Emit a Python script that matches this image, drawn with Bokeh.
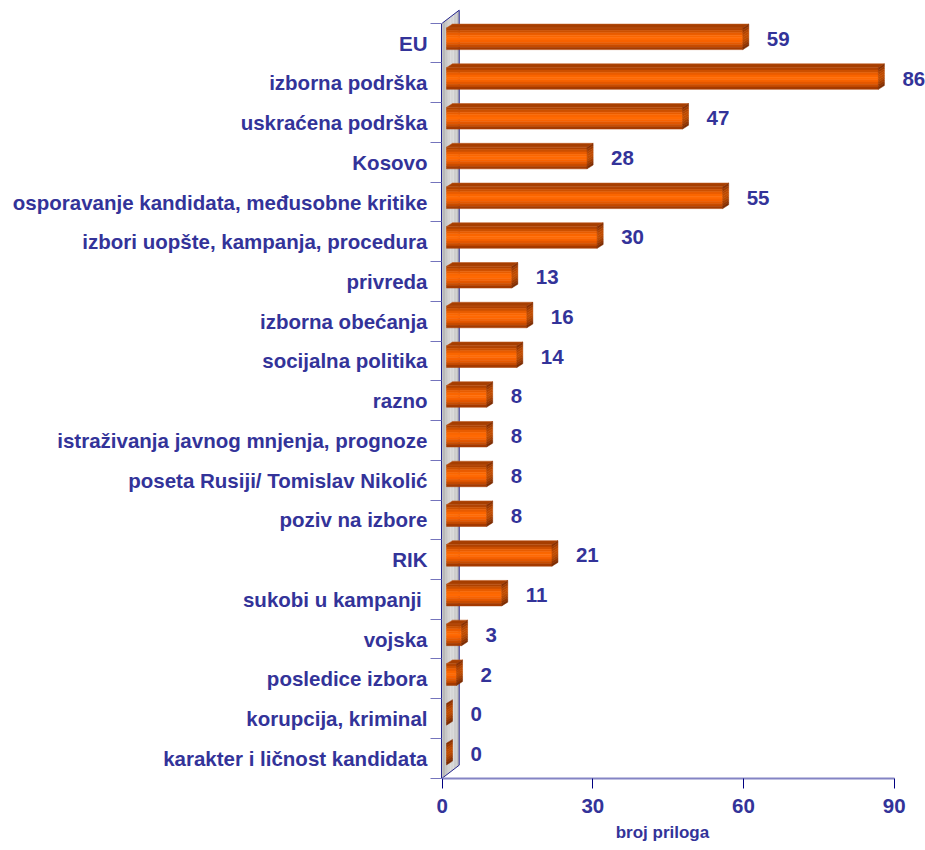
from bokeh.plotting import figure
from bokeh.models import Range1d, FixedTicker, ColumnDataSource, Title
from bokeh.core.properties import value
from bokeh.embed import file_html
from bokeh.resources import INLINE

# ---------------- data ----------------
categories = [
    "EU",
    "izborna podrška",
    "uskraćena podrška",
    "Kosovo",
    "osporavanje kandidata, međusobne kritike",
    "izbori uopšte, kampanja, procedura",
    "privreda",
    "izborna obećanja",
    "socijalna politika",
    "razno",
    "istraživanja javnog mnjenja, prognoze",
    "poseta Rusiji/ Tomislav Nikolić",
    "poziv na izbore",
    "RIK",
    "sukobi u kampanji ",
    "vojska",
    "posledice izbora",
    "korupcija, kriminal",
    "karakter i ličnost kandidata",
]
counts = [59, 86, 47, 28, 55, 30, 13, 16, 14, 8, 8, 8, 8, 21, 11, 3, 2, 0, 0]
x_ticks = [0, 30, 60, 90]
x_title = "broj priloga"

# ---------------- layout / geometry ----------------
W, H = 925, 850
FL, FB = 441, 778          # frame left / bottom in px
PX_X = 5.022               # px per value unit
PX_Y = 39.737              # px per category slot
X0_PX = 441.7              # pixel of value 0
n = len(categories)
ypos = [n - 1 - i for i in range(n)]

x_start = -(X0_PX - FL) / PX_X
x_end = x_start + (W - FL) / PX_X
y_start = -0.5 - (FB - 777.7) / PX_Y
y_end = y_start + FB / PX_Y

TXT = "#333399"
FONT = "Liberation Sans"
FS = "20.5px"

p = figure(width=W, height=H,
           x_range=Range1d(x_start, x_end), y_range=Range1d(y_start, y_end),
           min_border_left=FL, min_border_right=0, min_border_top=0,
           min_border_bottom=H - FB,
           output_backend="svg", toolbar_location=None,
           outline_line_color=None, background_fill_color="white",
           border_fill_color="white")
p.grid.visible = False

# x axis
xa = p.xaxis[0]
xa.ticker = FixedTicker(ticks=x_ticks, minor_ticks=[])
xa.bounds = (x_ticks[0], x_ticks[-1])
xa.axis_line_color = "#8484C4"
xa.axis_line_width = 2
xa.major_tick_line_color = "#000080"
xa.major_tick_out = 10
xa.major_tick_in = 0
xa.minor_tick_line_color = None
xa.major_label_text_font = FONT
xa.major_label_text_font_style = "bold"
xa.major_label_text_font_size = FS
xa.major_label_text_color = TXT
xa.major_label_standoff = 10

# axis title (below the axis, roughly centred under the tick span)
span_mid_px = X0_PX + PX_X * (x_ticks[0] + x_ticks[-1]) / 2
title_half_w = 46.5
p.add_layout(Title(text=x_title, align="left",
                   offset=span_mid_px - 6 - title_half_w - FL,
                   standoff=11, vertical_align="bottom",
                   text_font=FONT, text_font_style="bold",
                   text_font_size="17px", text_color=TXT), "below")

# y axis (categories)
ya = p.yaxis[0]
ya.ticker = FixedTicker(ticks=ypos, minor_ticks=[k - 0.5 for k in range(n + 1)])
ya.bounds = (-0.5, n - 0.5)
ya.major_label_overrides = {y: c for y, c in zip(ypos, categories)}
ya.axis_line_color = "#24248C"
ya.axis_line_width = 1
ya.major_tick_out = 0
ya.major_tick_in = 0
ya.minor_tick_out = 11
ya.minor_tick_in = 0
ya.minor_tick_line_color = "#7474BC"
ya.major_label_text_font = FONT
ya.major_label_text_font_style = "bold"
ya.major_label_text_font_size = FS
ya.major_label_text_color = TXT
ya.major_label_standoff = 3

# ---------------- back wall ----------------
WDX = 17 / PX_X
WDY = 13 / PX_Y
wall_cols = ["#B8B8B8", "#C6C6C6", "#D2D2D2", "#D6D6D6", "#CDCDCD", "#C0C0C0"]
wxs, wys = [], []
m = len(wall_cols)
for k in range(m):
    t0, t1 = k / m, (k + 1) / m
    wxs.append([t0 * WDX, t1 * WDX, t1 * WDX, t0 * WDX])
    wys.append([-0.5 + t0 * WDY, -0.5 + t1 * WDY, n - 0.5 + t1 * WDY, n - 0.5 + t0 * WDY])
p.patches(xs=wxs, ys=wys, fill_color=wall_cols, line_color=None)
edge = "#24248C"
p.line(x=[WDX, WDX], y=[-0.5 + WDY, n - 0.5 + WDY], line_color=edge, line_width=1)
p.line(x=[0, WDX], y=[n - 0.5, n - 0.5 + WDY], line_color=edge, line_width=1)
p.line(x=[0, WDX], y=[-0.5, -0.5 + WDY], line_color=edge, line_width=1)

# ---------------- 3D bars ----------------
BX0 = 4.3 / PX_X
BSHIFT = 4.3 / PX_Y
BHALF = 10.85 / PX_Y
BDX = 6 / PX_X
BDY = 3.8 / PX_Y
front_cols = ["#B04200", "#CC5000", "#E85C00", "#FA6600", "#FF6A04",
              "#F86200", "#E45800", "#C84C00", "#A43A00"]
end_cols = ["#8A3000", "#9E3A00", "#B24400", "#BE4A00", "#C04C00",
            "#B84800", "#A84000", "#963600", "#7E2C00"]
top_col = "#A63E00"
ns = len(front_cols)

ql, qr, qb, qt, qc = [], [], [], [], []
exs, eys, ec = [], [], []
txs, tys = [], []
lab_x, lab_y, lab_t = [], [], []
for y, v in zip(ypos, counts):
    yc = y + BSHIFT
    ybot, ytop = yc - BHALF, yc + BHALF
    xl, xr = BX0, BX0 + v
    h = (ytop - ybot) / ns
    for k in range(ns):
        s_top = ytop - k * h
        s_bot = s_top - h
        if v > 0:
            ql.append(xl); qr.append(xr); qb.append(s_bot); qt.append(s_top); qc.append(front_cols[k])
        exs.append([xr, xr + BDX, xr + BDX, xr])
        eys.append([s_bot, s_bot + BDY, s_top + BDY, s_top])
        ec.append(end_cols[k])
    if v > 0:
        txs.append([xl, xl + BDX, xr + BDX, xr])
        tys.append([ytop, ytop + BDY, ytop + BDY, ytop])
    lab_x.append(xr); lab_y.append(yc); lab_t.append(str(v))

p.quad(source=ColumnDataSource(dict(left=ql, right=qr, bottom=qb, top=qt, color=qc)),
       left="left", right="right", bottom="bottom", top="top",
       fill_color="color", line_color="color", line_width=0.5)
p.patches(xs=txs, ys=tys, fill_color=top_col, line_color="#C05A20", line_width=0.6)
p.patches(xs=exs, ys=eys, fill_color=ec, line_color=ec, line_width=0.5)

p.text(x=lab_x, y=lab_y, text=lab_t, x_offset=24, y_offset=0,
       text_align="left", text_baseline="middle",
       text_font=value(FONT), text_font_style="bold", text_font_size=FS,
       text_color=TXT)

open("out.html", "w").write(file_html(p, INLINE))
